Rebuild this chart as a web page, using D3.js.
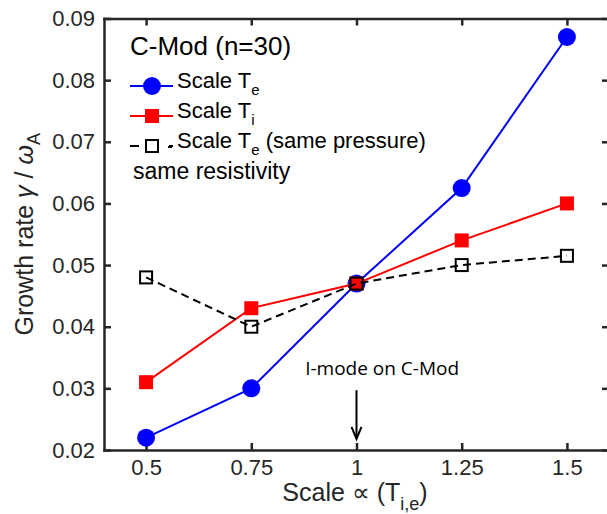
<!DOCTYPE html>
<html>
<head>
<meta charset="utf-8">
<script src="https://cdn.jsdelivr.net/npm/d3@7/dist/d3.min.js"></script>
<style>
  html, body { margin: 0; padding: 0; background: #fff; }
  svg { display: block; font-family: 'Liberation Sans', Arial, Helvetica, sans-serif; }
  .axis path, .axis line { stroke: #262626; stroke-width: 2.5; }
  .axis text { fill: #262626; font-size: 22px; font-family: 'Liberation Sans', Arial, sans-serif; }
</style>
</head>
<body>
<div id="root"></div>
<script>
// data
const scales = [0.5, 0.75, 1, 1.25, 1.5];
const scaleTe = [0.022, 0.030, 0.047, 0.0625, 0.087];
const scaleTi = [0.031, 0.043, 0.047, 0.054, 0.060];
const scaleTeSameP = [0.048, 0.040, 0.047, 0.050, 0.0515];
const yTicks = [0.02, 0.03, 0.04, 0.05, 0.06, 0.07, 0.08, 0.09];

// annotation "I-mode on C-Mod"
const annotX = 1;
const annotTextX = 0.878;
const annotTextY = 0.0322;
const arrowFrom = 0.0297;
const arrowTo = 0.0218;

const width = 607;
const height = 514;

const x = d3.scaleLinear().domain([0.4, 1.6]).range([104, 609]);
const y = d3.scaleLinear().domain([0.02, 0.09]).range([450, 18.5]);

const svg = d3.select('#root')
  .append('svg')
  .attr('width', width)
  .attr('height', height);

// axes (ticks point inward, box on all sides)
svg.append('g')
  .attr('class', 'axis')
  .attr('transform', `translate(0,${y(0.02)})`)
  .call(d3.axisBottom(x).tickValues(scales).tickSize(-7).tickSizeOuter(0).tickPadding(9).tickFormat(d => String(d)));
svg.append('g')
  .attr('class', 'axis')
  .attr('transform', `translate(0,${y(0.09)})`)
  .call(d3.axisTop(x).tickValues(scales).tickSize(-7).tickSizeOuter(0).tickFormat(''));
svg.append('g')
  .attr('class', 'axis')
  .attr('transform', `translate(${x(0.4)},0)`)
  .call(d3.axisLeft(y).tickValues(yTicks).tickSize(-7).tickSizeOuter(0).tickPadding(9).tickFormat(d3.format('.2f')));
svg.append('g')
  .attr('class', 'axis')
  .attr('transform', `translate(${x(1.6)},0)`)
  .call(d3.axisRight(y).tickValues(yTicks).tickSize(-7).tickSizeOuter(0).tickFormat(''));

svg.selectAll('.axis path.domain').attr('stroke-linecap', 'square');

// axis labels
const yLabel = svg.append('text')
  .attr('transform', `translate(33,${(y(0.02) + y(0.09)) / 2}) rotate(-90)`)
  .attr('text-anchor', 'middle')
  .attr('fill', '#262626')
  .style('font-size', '25px');
yLabel.append('tspan').text('Growth rate ');
yLabel.append('tspan').style('font-style', 'italic').text('γ');
yLabel.append('tspan').text(' / ');
yLabel.append('tspan').style('font-style', 'italic').text('ω');
yLabel.append('tspan').attr('dy', 7).style('font-size', '18px').text('A');

const xLabel = svg.append('text')
  .attr('x', (x(0.4) + 606) / 2)
  .attr('y', 501)
  .attr('text-anchor', 'middle')
  .attr('fill', '#262626')
  .style('font-size', '25px');
xLabel.append('tspan').text('Scale ∝ (T');
xLabel.append('tspan').attr('dy', 9).style('font-size', '18px').text('i,e');
xLabel.append('tspan').attr('dy', -9).text(')');

const line = d3.line()
  .x((d, i) => x(scales[i]))
  .y(d => y(d));

// Scale Te (blue circles)
svg.append('path')
  .datum(scaleTe)
  .attr('d', line)
  .attr('fill', 'none')
  .attr('stroke', '#0000ff')
  .attr('stroke-width', 2);
svg.selectAll('.pt-te')
  .data(scaleTe)
  .enter()
  .append('circle')
  .attr('class', 'pt-te')
  .attr('cx', (d, i) => x(scales[i]))
  .attr('cy', d => y(d))
  .attr('r', 9)
  .attr('fill', '#0000ff');

// Scale Ti (red squares)
svg.append('path')
  .datum(scaleTi)
  .attr('d', line)
  .attr('fill', 'none')
  .attr('stroke', '#ff0000')
  .attr('stroke-width', 2);
svg.selectAll('.pt-ti')
  .data(scaleTi)
  .enter()
  .append('rect')
  .attr('class', 'pt-ti')
  .attr('x', (d, i) => x(scales[i]) - 7)
  .attr('y', d => y(d) - 7)
  .attr('width', 14)
  .attr('height', 14)
  .attr('fill', '#ff0000');

// Scale Te same pressure (black dashed, open squares)
svg.append('path')
  .datum(scaleTeSameP)
  .attr('d', line)
  .attr('fill', 'none')
  .attr('stroke', '#000')
  .attr('stroke-width', 2)
  .attr('stroke-dasharray', '8,5');
svg.selectAll('.pt-tp')
  .data(scaleTeSameP)
  .enter()
  .append('rect')
  .attr('class', 'pt-tp')
  .attr('x', (d, i) => x(scales[i]) - 6)
  .attr('y', d => y(d) - 6)
  .attr('width', 12)
  .attr('height', 12)
  .attr('fill', 'none')
  .attr('stroke', '#000')
  .attr('stroke-width', 2);

// legend
svg.append('text')
  .attr('x', 130)
  .attr('y', 55)
  .attr('fill', '#000')
  .style('font-size', '26px')
  .text('C-Mod (n=30)');

const legendItems = [
  { name: 'Scale T', sub: 'e', rest: '', color: '#0000ff', marker: 'circle', dash: null },
  { name: 'Scale T', sub: 'i', rest: '', color: '#ff0000', marker: 'square', dash: null },
  { name: 'Scale T', sub: 'e', rest: ' (same pressure)', color: '#000', marker: 'open', dash: '9,30' },
];

legendItems.forEach((item, i) => {
  const ly = 86 + i * 30;
  const g = svg.append('g');
  g.append('line')
    .attr('x1', 130).attr('x2', 173)
    .attr('y1', ly).attr('y2', ly)
    .attr('stroke', item.color)
    .attr('stroke-width', 2)
    .attr('stroke-dasharray', item.dash);
  if (item.marker === 'circle') {
    g.append('circle').attr('cx', 152).attr('cy', ly).attr('r', 9).attr('fill', item.color);
  } else if (item.marker === 'square') {
    g.append('rect').attr('x', 145).attr('y', ly - 7).attr('width', 14).attr('height', 14).attr('fill', item.color);
  } else {
    g.append('rect').attr('x', 146).attr('y', ly - 6).attr('width', 12).attr('height', 12)
      .attr('fill', 'none').attr('stroke', item.color).attr('stroke-width', 2);
    g.append('line').attr('x1', 168).attr('x2', 172).attr('y1', ly + 1).attr('y2', ly + 1)
      .attr('stroke', item.color).attr('stroke-width', 2);
  }
  const t = g.append('text')
    .attr('x', 177)
    .attr('y', ly + 2)
    .attr('fill', '#000')
    .style('font-size', '22px');
  t.append('tspan').text(item.name);
  t.append('tspan').attr('dy', 7).style('font-size', '15px').text(item.sub);
  if (item.rest) t.append('tspan').attr('dy', -7).text(item.rest);
});

svg.append('text')
  .attr('x', 133)
  .attr('y', 179)
  .attr('fill', '#000')
  .style('font-size', '23px')
  .text('same resistivity');

// annotation
svg.append('text')
  .attr('x', x(annotTextX))
  .attr('y', y(annotTextY))
  .attr('fill', '#000')
  .style('font-family', "'Open Sans', sans-serif")
  .style('font-size', '19px')
  .text('I-mode on C-Mod');
const ax = x(annotX);
svg.append('line')
  .attr('x1', ax).attr('x2', ax)
  .attr('y1', y(arrowFrom)).attr('y2', y(arrowTo))
  .attr('stroke', '#000').attr('stroke-width', 2);
svg.append('path')
  .attr('d', `M${ax - 5},${y(arrowTo) - 12}L${ax},${y(arrowTo)}L${ax + 5},${y(arrowTo) - 12}`)
  .attr('fill', 'none')
  .attr('stroke', '#000')
  .attr('stroke-width', 2);
</script>
</body>
</html>
